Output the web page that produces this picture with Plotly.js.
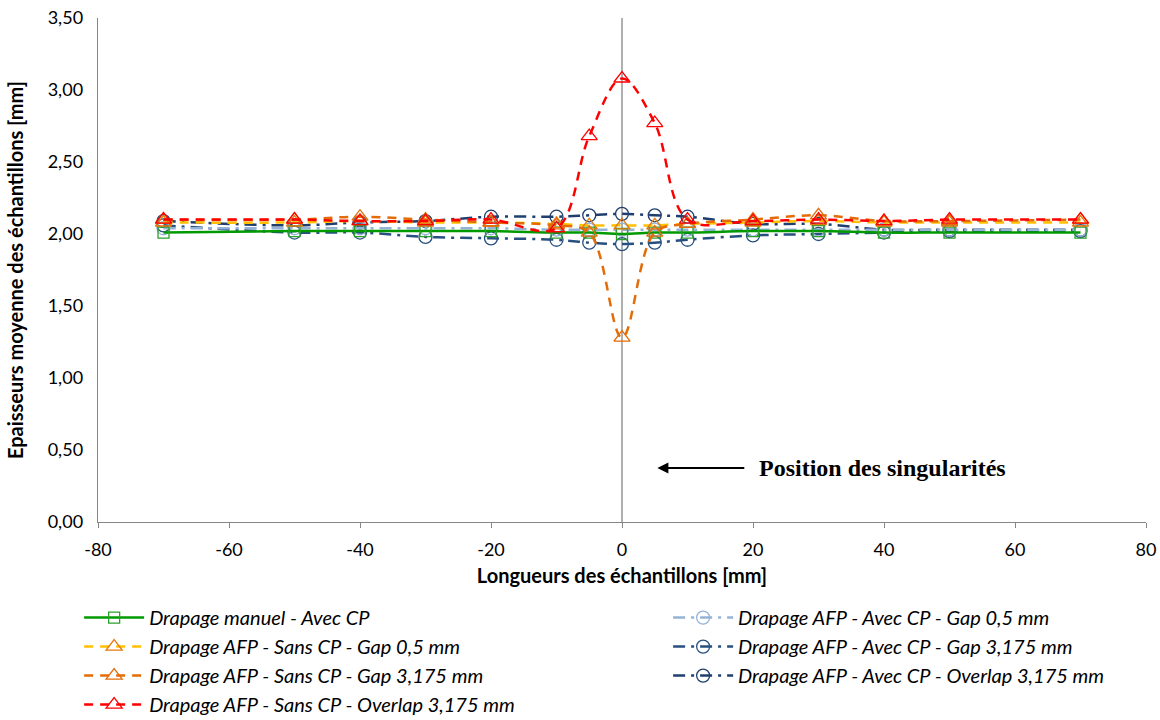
<!DOCTYPE html>
<html>
<head>
<meta charset="utf-8">
<script src="https://cdn.plot.ly/plotly-3.0.1.min.js"></script>
<style>html,body{margin:0;padding:0;background:#fff}#chart{width:1160px;height:720px}</style>
</head>
<body>
<div id="chart"></div>
<script>
const positions = [-70, -50, -40, -30, -20, -10, -5, 0, 5, 10, 20, 30, 40, 50, 70];

const manuelAvecCP      = [2.01, 2.02, 2.02, 2.02, 2.02, 2.01, 2.01, 2.00, 2.01, 2.01, 2.02, 2.02, 2.01, 2.01, 2.01];
const sansCPGap05       = [2.08, 2.08, 2.09, 2.08, 2.08, 2.07, 2.06, 2.06, 2.06, 2.07, 2.08, 2.09, 2.08, 2.08, 2.08];
const sansCPGap3175     = [2.10, 2.10, 2.12, 2.10, 2.08, 2.06, 2.01, 1.28, 2.01, 2.07, 2.10, 2.13, 2.09, 2.09, 2.10];
const sansCPOverlap3175 = [2.10, 2.10, 2.09, 2.09, 2.10, 2.04, 2.68, 3.08, 2.77, 2.10, 2.09, 2.10, 2.09, 2.10, 2.10];
const avecCPGap05       = [2.04, 2.04, 2.04, 2.04, 2.04, 2.03, 2.03, 2.03, 2.03, 2.03, 2.03, 2.03, 2.03, 2.03, 2.03];
const avecCPGap3175     = [2.06, 2.01, 2.01, 1.98, 1.97, 1.96, 1.94, 1.93, 1.94, 1.96, 1.99, 2.00, 2.01, 2.02, 2.02];
const avecCPOverlap3175 = [2.09, 2.06, 2.08, 2.09, 2.12, 2.12, 2.13, 2.14, 2.13, 2.12, 2.07, 2.07, 2.03, 2.03, 2.03];

const xTickValues = [-80, -60, -40, -20, 0, 20, 40, 60, 80];
const xTickLabels = ['-80', '-60', '-40', '-20', '0', '20', '40', '60', '80'];

const seriesNames = [
  'Drapage manuel - Avec CP',
  'Drapage AFP - Sans CP - Gap 0,5 mm',
  'Drapage AFP - Sans CP - Gap 3,175 mm',
  'Drapage AFP - Sans CP - Overlap 3,175 mm',
  'Drapage AFP - Avec CP - Gap 0,5 mm',
  'Drapage AFP - Avec CP - Gap 3,175 mm',
  'Drapage AFP - Avec CP - Overlap 3,175 mm'
];

const annotationText = 'Position des singularités';

function tr(name, y, lineColor, markerColor, dash, symbol, size, legend, group) {
  return {
    type: 'scatter', mode: 'lines+markers', name: name, x: positions, y: y,
    legend: legend, legendgroup: group,
    line: {color: lineColor, width: 2.5, dash: dash, shape: 'spline', smoothing: 1},
    marker: {symbol: symbol, size: size, color: markerColor, line: {width: 1.3, color: markerColor}}
  };
}

const dashed = '9px,7px';
const dashDot = '12px,6px,3px,6px';

const data = [
  tr(seriesNames[6], avecCPOverlap3175, '#1F3F6E', '#1F3F6E', dashDot, 'circle-open', 13, 'legend2', 'g7'),
  tr(seriesNames[5], avecCPGap3175, '#27507F', '#27507F', dashDot, 'circle-open', 13, 'legend2', 'g6'),
  tr(seriesNames[4], avecCPGap05, '#95B3D7', '#95B3D7', dashDot, 'circle-open', 13, 'legend2', 'g5'),
  tr(seriesNames[0], manuelAvecCP, '#009A00', '#2CA02C', 'solid', 'square-open', 11, 'legend', 'g1'),
  tr(seriesNames[1], sansCPGap05, '#FFC000', '#E37A0C', dashed, 'triangle-up-open', 14, 'legend', 'g2'),
  tr(seriesNames[2], sansCPGap3175, '#E36C09', '#E36C09', dashed, 'triangle-up-open', 14, 'legend', 'g3'),
  tr(seriesNames[3], sansCPOverlap3175, '#FF0000', '#FF0000', dashed, 'triangle-up-open', 14, 'legend', 'g4')
];

const legendFont = {family: 'Lato, "Open Sans", sans-serif', size: 20, color: '#000', style: 'italic'};

const layout = {
  width: 1160, height: 720,
  margin: {l: 98, r: 14, t: 18, b: 198, autoexpand: false},
  paper_bgcolor: '#fff', plot_bgcolor: '#fff',
  separators: ', ',
  font: {family: 'Lato, "Open Sans", sans-serif', size: 18, color: '#000'},
  xaxis: {
    range: [-80, 80], tickvals: xTickValues, ticktext: xTickLabels, showgrid: false, zeroline: false,
    showline: true, linecolor: '#868686', linewidth: 1.3,
    ticks: 'outside', ticklen: 5, tickcolor: '#868686', ticklabelstandoff: 6,
    title: {text: 'Longueurs des échantillons [mm]', font: {size: 20, family: 'Lato, sans-serif', weight: 'bold'}, standoff: 10}
  },
  yaxis: {
    range: [0, 3.5], dtick: 0.5, tickformat: '.2f', showgrid: false, zeroline: false,
    showline: true, linecolor: '#868686', linewidth: 1.3,
    ticks: '', ticklabelstandoff: 10,
    title: {text: 'Epaisseurs moyenne des échantillons [mm]', font: {size: 20, family: 'Lato, sans-serif', weight: 'bold'}, standoff: 18}
  },
  showlegend: true,
  legend: {
    x: -0.018, xanchor: 'left', y: -0.151, yanchor: 'top',
    orientation: 'v', traceorder: 'normal', tracegroupgap: 9.5,
    font: legendFont, itemwidth: 60, bgcolor: 'rgba(0,0,0,0)'
  },
  legend2: {
    x: 0.544, xanchor: 'left', y: -0.151, yanchor: 'top',
    orientation: 'v', traceorder: 'reversed', tracegroupgap: 9.5,
    font: legendFont, itemwidth: 60, bgcolor: 'rgba(0,0,0,0)'
  },
  shapes: [
    {type: 'line', xref: 'x', yref: 'paper', x0: 0, x1: 0, y0: 0, y1: 1, line: {color: '#868686', width: 1.3}, layer: 'below'}
  ],
  annotations: [
    {x: 5.4, y: 0.375, xref: 'x', yref: 'y', ax: 18.9, ay: 0.375, axref: 'x', ayref: 'y',
     text: '', showarrow: true, arrowhead: 2, arrowsize: 1.1, arrowwidth: 2, arrowcolor: '#000'},
    {x: 20.6, y: 0.375, xref: 'x', yref: 'y', xanchor: 'left', yanchor: 'middle', showarrow: false,
     text: '<b>' + annotationText + '</b>', font: {family: '"Liberation Serif", "DejaVu Serif", serif', size: 24, color: '#000'}}
  ]
};

Plotly.newPlot('chart', data, layout, {displayModeBar: false, staticPlot: true});
</script>
</body>
</html>
